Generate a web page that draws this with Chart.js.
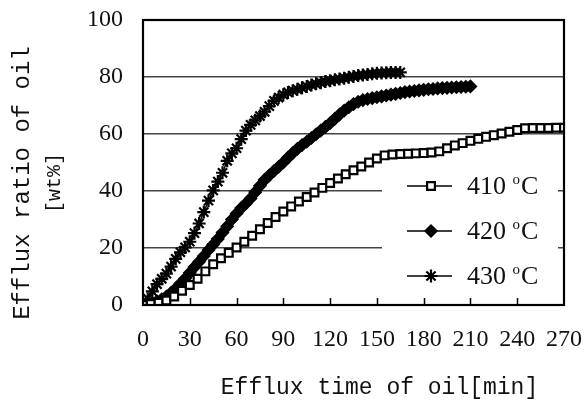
<!DOCTYPE html>
<html>
<head>
<meta charset="utf-8">
<title>Efflux of oil</title>
<script src="https://cdn.jsdelivr.net/npm/chart.js"></script>
<style>
    html, body { margin: 0; padding: 0; background: #fff; }
    canvas { display: block; }
</style>
</head>
<body>
<canvas id="effluxChart" width="586" height="401"></canvas>
<script>
// ============================================
// DATA
// ============================================
const seriesLabels = ['410', '420', '430']

const time410 = [0, 5, 10, 15, 20, 25, 30, 35, 40, 45, 50, 55, 60, 65, 70, 75, 80, 85, 90, 95,
    100, 105, 110, 115, 120, 125, 130, 135, 140, 145, 150, 155, 160, 165, 170, 175, 180, 185, 190, 195,
    200, 205, 210, 215, 220, 225, 230, 235, 240, 245, 250, 255, 260, 265, 270]
const ratio410 = [0, 0.3, 0.8, 1.6, 3, 5, 7, 9.2, 11.8, 14.3, 16.4, 18.3, 20.2, 22.2, 24.3, 26.6, 28.8, 30.9, 32.8, 34.6,
    36.3, 37.9, 39.5, 41.1, 42.8, 44.4, 45.9, 47.3, 48.6, 50, 51.4, 52.5, 52.8, 53, 53.1, 53.2, 53.3, 53.5, 53.9, 55,
    56, 56.8, 57.6, 58.3, 59, 59.6, 60.2, 60.8, 61.4, 62, 62.1, 62.1, 62.1, 62.2, 62.2]

const time420 = [0, 3, 6, 9, 12, 15, 18, 21, 24, 27, 30, 33, 36, 39, 42, 45, 48, 51, 54, 57,
    60, 63, 66, 69, 72, 75, 78, 81, 84, 87, 90, 93, 96, 99, 102, 105, 108, 111, 114, 117,
    120, 123, 126, 129, 132, 135, 138, 141, 144, 147, 150, 153, 156, 159, 162, 165, 168, 171, 174, 177,
    180, 183, 186, 189, 192, 195, 198, 201, 204, 207, 210]
const ratio420 = [0, 0.3, 0.7, 1.3, 2, 3, 4.3, 5.8, 7.5, 9.3, 11.3, 13.3, 15.2, 17.2, 19.3, 21.2, 23.2, 25.4, 27.6, 30,
    32.1, 34, 35.6, 37.4, 39.6, 41.8, 43.9, 45.5, 47, 48.5, 50, 51.7, 53.3, 54.8, 56.1, 57.3, 58.6, 59.9, 61.2, 62.5,
    63.8, 65.3, 66.8, 68.2, 69.4, 70.5, 71.3, 71.9, 72.3, 72.6, 72.9, 73.2, 73.5, 73.8, 74.1, 74.4, 74.7, 74.9, 75.1, 75.3,
    75.5, 75.7, 75.8, 76, 76.1, 76.2, 76.3, 76.4, 76.5, 76.6, 76.7]

const time430 = [0, 3, 6, 9, 12, 15, 18, 21, 24, 27, 30, 33, 36, 39, 42, 45, 48, 51, 54, 57,
    60, 63, 66, 69, 72, 75, 78, 81, 84, 87, 90, 93, 96, 99, 102, 105, 108, 111, 114, 117,
    120, 123, 126, 129, 132, 135, 138, 141, 144, 147, 150, 153, 156, 159, 162, 165]
const ratio430 = [0, 2.2, 4.8, 7.3, 9.2, 11, 13.5, 16.2, 18.5, 20.2, 22.2, 25.2, 28.6, 32.6, 36.6, 40.2, 43.3, 46.4, 50.6, 53.2,
    55, 58.2, 61.2, 63.2, 64.8, 66.3, 67.8, 69.8, 71.6, 72.8, 73.8, 74.6, 75.2, 75.7, 76.2, 76.7, 77.2, 77.6, 78, 78.4,
    78.7, 79, 79.3, 79.6, 79.9, 80.2, 80.5, 80.7, 80.9, 81.1, 81.3, 81.4, 81.5, 81.6, 81.6, 81.6]

const xTicks = [0, 30, 60, 90, 120, 150, 180, 210, 240, 270]
const yTicks = [0, 20, 40, 60, 80, 100]

const xTitle = 'Efflux time of oil[min]'
const yTitle = ['Efflux ratio of oil', '[wt%]']

// ============================================
// STYLE
// ============================================
const tickFont = { family: '"Liberation Serif", "Times New Roman", serif', size: 24 }
const titleFamily = '"Liberation Mono", "DejaVu Sans Mono", monospace'

const markers = [
    { pointStyle: 'rect',    radius: 5.5, fill: '#fff', border: 2.2 },
    { pointStyle: 'rectRot', radius: 6,   fill: '#000', border: 1.5 },
    { pointStyle: 'star',    radius: 6.5, fill: '#000', border: 2.2 }
]

const pairs = (xs, ys) => xs.map((x, i) => ({ x, y: ys[i] }))

const datasets = [
    pairs(time410, ratio410),
    pairs(time420, ratio420),
    pairs(time430, ratio430)
].map((data, i) => ({
    label: seriesLabels[i],
    data,
    borderColor: '#000',
    borderWidth: 1.5,
    fill: false,
    tension: 0,
    pointStyle: markers[i].pointStyle,
    pointRadius: markers[i].radius,
    pointBackgroundColor: markers[i].fill,
    pointBorderColor: '#000',
    pointBorderWidth: markers[i].border
}))

// ============================================
// PLUGINS
// ============================================

// frame around the plot plus the short inward ticks on the bottom axis
const framePlugin = {
    id: 'frame',
    afterDraw(chart) {
        const { ctx, chartArea: a, scales } = chart
        ctx.save()
        ctx.strokeStyle = '#000'
        ctx.lineWidth = 1.5
        xTicks.slice(1, -1).forEach(v => {
            const x = Math.round(scales.x.getPixelForValue(v)) + 0.5
            ctx.beginPath()
            ctx.moveTo(x, a.bottom)
            ctx.lineTo(x, a.bottom - 7)
            ctx.stroke()
        })
        ctx.lineWidth = 2.2
        ctx.strokeRect(a.left, a.top, a.right - a.left, a.bottom - a.top)
        ctx.restore()
    }
}

// axis titles in a monospace face
const titlePlugin = {
    id: 'axisTitles',
    afterDraw(chart) {
        const { ctx, chartArea: a } = chart
        ctx.save()
        ctx.fillStyle = '#111'
        ctx.textAlign = 'center'
        ctx.textBaseline = 'middle'

        ctx.font = `23px ${titleFamily}`
        ctx.fillText(xTitle, (a.left + a.right) / 2 + 26, 388)

        ctx.translate(23, 183)
        ctx.rotate(-Math.PI / 2)
        ctx.font = `24px ${titleFamily}`
        ctx.fillText(yTitle[0], 0, 0)
        ctx.font = `20px ${titleFamily}`
        ctx.fillText(yTitle[1], 0, 32)
        ctx.restore()
    }
}

// legend inside the plot, on a white panel that hides the grid lines
const legendPlugin = {
    id: 'insideLegend',
    afterDatasetsDraw(chart) {
        const { ctx, chartArea: a } = chart
        const boxLeft = a.right - 182
        const boxTop = a.top + 142
        ctx.save()
        ctx.fillStyle = '#fff'
        ctx.fillRect(boxLeft, boxTop, 176, a.bottom - boxTop - 2)

        chart.data.datasets.forEach((ds, i) => {
            const y = boxTop + 24 + i * 45
            const x0 = boxLeft + 25
            ctx.strokeStyle = '#000'
            ctx.lineWidth = 1.5
            ctx.beginPath()
            ctx.moveTo(x0, y)
            ctx.lineTo(x0 + 45, y)
            ctx.stroke()

            ctx.fillStyle = ds.pointBackgroundColor
            ctx.strokeStyle = '#000'
            ctx.lineWidth = ds.pointBorderWidth
            Chart.helpers.drawPoint(ctx, {
                pointStyle: ds.pointStyle,
                radius: ds.pointRadius,
                rotation: 0,
                borderWidth: ds.pointBorderWidth
            }, x0 + 24, y)

            // "410 °C" with a raised small o
            ctx.fillStyle = '#111'
            ctx.textBaseline = 'middle'
            ctx.textAlign = 'left'
            ctx.font = `26px ${tickFont.family}`
            let tx = x0 + 60
            const num = ds.label + ' '
            ctx.fillText(num, tx, y + 1)
            tx += ctx.measureText(num).width
            ctx.font = `15px ${tickFont.family}`
            ctx.fillText('o', tx, y - 6)
            tx += ctx.measureText('o').width + 1
            ctx.font = `26px ${tickFont.family}`
            ctx.fillText('C', tx, y + 1)
        })
        ctx.restore()
    }
}

// ============================================
// CHART
// ============================================
function init() {
    const ctx = document.getElementById('effluxChart')

    new Chart(ctx, {
        type: 'line',
        data: { datasets },
        options: {
            responsive: false,
            animation: false,
            layout: { padding: { left: 0, right: 22, top: 20, bottom: 0 } },
            plugins: {
                legend: { display: false },
                tooltip: { enabled: false }
            },
            scales: {
                x: {
                    type: 'linear',
                    min: xTicks[0],
                    max: xTicks[xTicks.length - 1],
                    afterBuildTicks: s => { s.ticks = xTicks.map(v => ({ value: v })) },
                    afterFit: s => {
                        s.height = 96
                        s.paddingLeft = 0
                        s.paddingRight = 0
                    },
                    grid: { display: false, drawTicks: false },
                    border: { display: false },
                    ticks: { font: tickFont, color: '#111', padding: 20, maxRotation: 0, autoSkip: false }
                },
                y: {
                    min: yTicks[0],
                    max: yTicks[yTicks.length - 1],
                    afterBuildTicks: s => { s.ticks = yTicks.map(v => ({ value: v })) },
                    afterFit: s => {
                        s.width = 143
                        s.paddingTop = 0
                        s.paddingBottom = 0
                    },
                    grid: { color: '#444', lineWidth: 1.5, drawTicks: false },
                    border: { display: false },
                    ticks: { font: tickFont, color: '#111', padding: 20 }
                }
            }
        },
        plugins: [legendPlugin, framePlugin, titlePlugin]
    })
}

document.addEventListener('DOMContentLoaded', init)
</script>
</body>
</html>
